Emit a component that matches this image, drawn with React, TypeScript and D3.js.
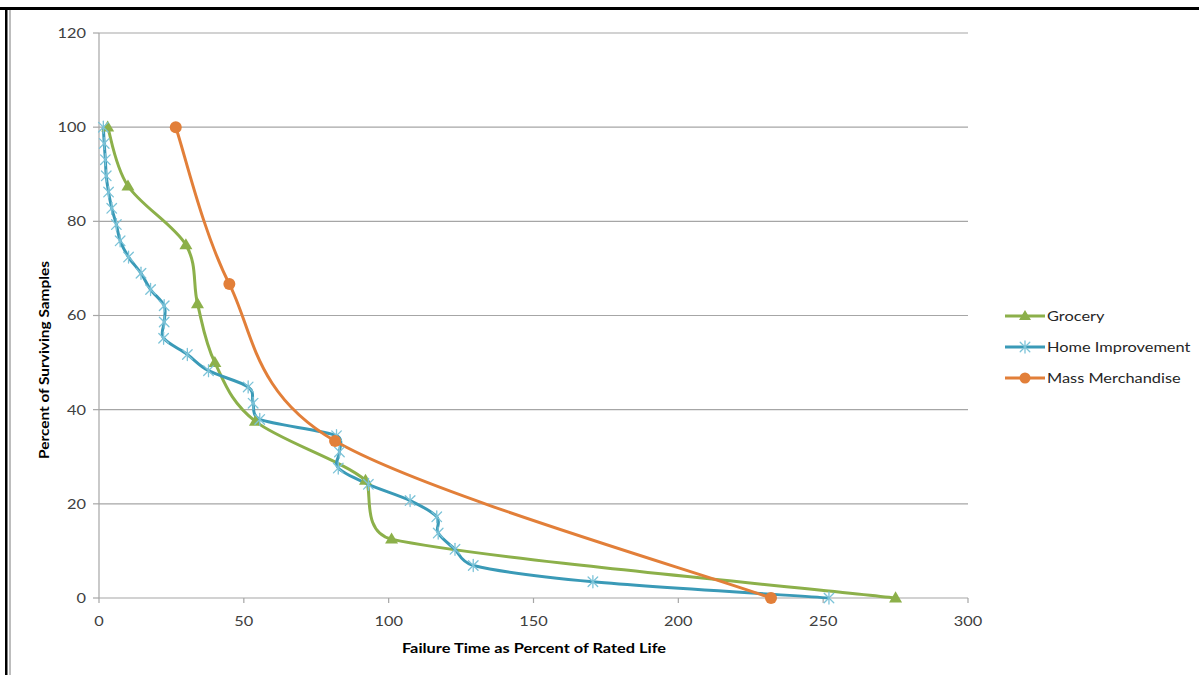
import React from "react";
import * as d3 from "d3";

// Survival percentages (y) for each group and their failure times (x, % of rated life)
const groceryPct = [100, 87.5, 75, 62.5, 50, 37.5, 25, 12.5, 0];
const groceryTime = [3, 10, 30, 34, 40, 54, 92, 101, 275];

const homePct = [
  100, 96.55, 93.1, 89.66, 86.21, 82.76, 79.31, 75.86, 72.41, 68.97,
  65.52, 62.07, 58.62, 55.17, 51.72, 48.28, 44.83, 41.38, 37.93, 34.48,
  31.03, 27.59, 24.14, 20.69, 17.24, 13.79, 10.34, 6.9, 3.45, 0,
];
const homeTime = [
  1.5, 1.8, 2.2, 2.5, 3.3, 4.4, 6.0, 7.3, 10.2, 14.5,
  17.8, 22.5, 22.5, 22.3, 30.5, 37.8, 51.5, 53.2, 55.5, 82,
  83.0, 82.6, 93.0, 107.4, 116.6, 117.1, 122.9, 129.2, 170.5, 252,
];

const massPct = [100, 66.67, 33.33, 0];
const massTime = [26.5, 45, 81.5, 232];

const xTicks = [0, 50, 100, 150, 200, 250, 300];
const yTicks = [0, 20, 40, 60, 80, 100, 120];

const seriesNames = ["Grocery", "Home Improvement", "Mass Merchandise"];

const W = 1199;
const H = 675;
const left = 99;
const right = 968;
const top = 33;
const bottom = 598;

const GREEN = "#8cb04a";
const BLUE = "#3a9ab7";
const BLUE_LIGHT = "#7cc3d8";
const ORANGE = "#e27f39";

const FONT = "Lato, 'Open Sans', sans-serif";
const SX = 1.17; // horizontal stretch applied to labels

type Pt = [number, number];

function zip(xs: number[], ys: number[]): Pt[] {
  return xs.map((x, i) => [x, ys[i]]);
}

// Spreadsheet-style smoothed line: cubic Bezier segments whose control arms are
// 1/6 of the neighbour chord, shortened so no arm exceeds half the segment length.
function smoothPath(pts: Pt[]): string {
  const p = d3.path();
  if (!pts.length) return "";
  p.moveTo(pts[0][0], pts[0][1]);
  const dist = (a: Pt, b: Pt) => Math.hypot(b[0] - a[0], b[1] - a[1]);
  for (let i = 0; i < pts.length - 1; i++) {
    const p0 = pts[Math.max(0, i - 1)];
    const p1 = pts[i];
    const p2 = pts[i + 1];
    const p3 = pts[Math.min(pts.length - 1, i + 2)];
    const d12 = dist(p1, p2);
    const d02 = dist(p0, p2);
    const d13 = dist(p1, p3);
    let f = 1 / 6;
    if (d02 > 0) f = Math.min(f, d12 / (2 * d02));
    if (d13 > 0) f = Math.min(f, d12 / (2 * d13));
    const c1: Pt = [p1[0] + f * (p2[0] - p0[0]), p1[1] + f * (p2[1] - p0[1])];
    const c2: Pt = [p2[0] - f * (p3[0] - p1[0]), p2[1] - f * (p3[1] - p1[1])];
    p.bezierCurveTo(c1[0], c1[1], c2[0], c2[1], p2[0], p2[1]);
  }
  return p.toString();
}

function Triangle({ cx, cy, s = 6.5 }: { cx: number; cy: number; s?: number }) {
  const h = s * 1.7;
  return (
    <path
      d={`M${cx},${cy - h * 0.6} L${cx + s},${cy + h * 0.4} L${cx - s},${cy + h * 0.4} Z`}
      fill={GREEN}
    />
  );
}

function Star({ cx, cy, r = 6 }: { cx: number; cy: number; r?: number }) {
  const d = r * 0.8;
  return (
    <g stroke={BLUE_LIGHT} strokeWidth={1.3} strokeLinecap="round">
      <line x1={cx - d} y1={cy - d} x2={cx + d} y2={cy + d} />
      <line x1={cx - d} y1={cy + d} x2={cx + d} y2={cy - d} />
      <line x1={cx} y1={cy - r} x2={cx} y2={cy + r} />
    </g>
  );
}

function Label({
  x,
  y,
  anchor,
  size = 14,
  weight,
  fill = "#404040",
  children,
}: {
  x: number;
  y: number;
  anchor: "start" | "middle" | "end";
  size?: number;
  weight?: string;
  fill?: string;
  children: React.ReactNode;
}) {
  return (
    <text
      transform={`translate(${x},${y}) scale(${SX},1)`}
      dy="0.35em"
      textAnchor={anchor}
      fontFamily={FONT}
      fontSize={size}
      fontWeight={weight}
      fill={fill}
    >
      {children}
    </text>
  );
}

export default function App() {
  const x = d3.scaleLinear().domain([0, 300]).range([left, right]);
  const y = d3.scaleLinear().domain([0, 120]).range([bottom, top]);

  const toPx = (d: Pt): Pt => [x(d[0]), y(d[1])];

  const grocery = zip(groceryTime, groceryPct);
  const home = zip(homeTime, homePct);
  const mass = zip(massTime, massPct);

  const legendX = 1005;
  const legendY = [316, 347, 378];

  return (
    <svg width={W} height={H} style={{ display: "block", position: "absolute", left: 0, top: 0 }}>
      <rect x={0} y={0} width={W} height={H} fill="#ffffff" />
      {/* outer frame */}
      <rect x={0} y={7} width={W} height={3} fill="#000" />
      <rect x={5} y={7} width={2.5} height={H - 7} fill="#000" />
      <rect x={9} y={10} width={2} height={H - 10} fill="#bdbdbd" />

      {/* horizontal gridlines */}
      {yTicks.map((t) => (
        <line key={t} x1={left} x2={right} y1={y(t)} y2={y(t)} stroke="#a6a6a6" strokeWidth={1.2} />
      ))}
      {/* y axis */}
      <line x1={left} x2={left} y1={top} y2={bottom} stroke="#a6a6a6" strokeWidth={1.2} />
      {yTicks.map((t) => (
        <line key={"yt" + t} x1={left - 6} x2={left} y1={y(t)} y2={y(t)} stroke="#a6a6a6" strokeWidth={1.2} />
      ))}
      {xTicks.map((t) => (
        <line key={"xt" + t} x1={x(t)} x2={x(t)} y1={bottom} y2={bottom + 5} stroke="#a6a6a6" strokeWidth={1.2} />
      ))}

      {/* tick labels */}
      {yTicks.map((t) => (
        <Label key={"yl" + t} x={86} y={y(t)} anchor="end">
          {t}
        </Label>
      ))}
      {xTicks.map((t) => (
        <Label key={"xl" + t} x={x(t)} y={621} anchor="middle">
          {t}
        </Label>
      ))}

      {/* axis titles */}
      <Label x={534} y={648} anchor="middle" size={14} weight="bold" fill="#000">
        Failure Time as Percent of Rated Life
      </Label>
      <text
        transform={`translate(44,360) rotate(-90) scale(1.1,1)`}
        dy="0.35em"
        textAnchor="middle"
        fontFamily={FONT}
        fontWeight="bold"
        fontSize={14}
        fill="#000"
      >
        Percent of Surviving Samples
      </text>

      {/* series lines */}
      <path d={smoothPath(grocery.map(toPx))} fill="none" stroke={GREEN} strokeWidth={3} />
      <path d={smoothPath(home.map(toPx))} fill="none" stroke={BLUE} strokeWidth={3} />
      <path d={smoothPath(mass.map(toPx))} fill="none" stroke={ORANGE} strokeWidth={3} />

      {/* markers */}
      {grocery.map((p, i) => (
        <Triangle key={"g" + i} cx={x(p[0])} cy={y(p[1])} />
      ))}
      {home.map((p, i) => (
        <Star key={"h" + i} cx={x(p[0])} cy={y(p[1])} />
      ))}
      {mass.map((p, i) => (
        <circle key={"m" + i} cx={x(p[0])} cy={y(p[1])} r={6} fill={ORANGE} />
      ))}

      {/* legend */}
      {seriesNames.map((name, i) => {
        const ly = legendY[i];
        const color = i === 0 ? GREEN : i === 1 ? BLUE : ORANGE;
        return (
          <g key={name}>
            <line x1={legendX} x2={legendX + 40} y1={ly} y2={ly} stroke={color} strokeWidth={3} />
            {i === 0 && <Triangle cx={legendX + 20} cy={ly} s={6} />}
            {i === 1 && <Star cx={legendX + 20} cy={ly} r={6} />}
            {i === 2 && <circle cx={legendX + 20} cy={ly} r={5.5} fill={ORANGE} />}
            <Label x={legendX + 42} y={ly} anchor="start" fill="#262626">
              {name}
            </Label>
          </g>
        );
      })}
    </svg>
  );
}
